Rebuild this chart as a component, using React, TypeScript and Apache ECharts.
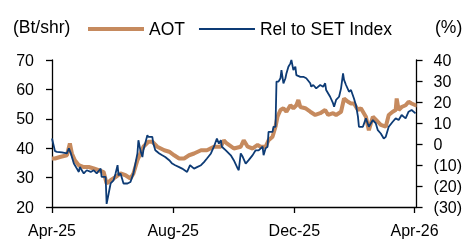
import React, { useEffect, useRef } from "react";
import * as echarts from "echarts";

// x positions are days since 1 Apr 2025
const xTickDays = [0, 122, 244, 365];
const xTickLabels = ["Apr-25", "Aug-25", "Dec-25", "Apr-26"];

const aotDays = [0, 3, 8, 15, 18, 20, 23, 27, 32, 37, 42, 47, 52, 55, 59, 64, 69, 74, 79, 82, 86, 89, 92, 97, 101, 106, 113, 118, 123, 128, 133, 138, 143, 150, 156, 163, 170, 173, 176, 183, 190, 193, 197, 202, 207, 210, 215, 218, 222, 225, 227, 230, 233, 236, 240, 243, 246, 248, 250, 255, 260, 265, 270, 275, 278, 283, 286, 291, 294, 298, 301, 304, 308, 311, 316, 319, 323, 328, 331, 336, 339, 343, 346, 347, 349, 352, 356, 359, 362, 366, 367];
const aotValues = [36.5, 36.5, 37, 37.6, 41.6, 38.2, 35.9, 34.2, 33.6, 33.6, 33.1, 32.5, 31.9, 28, 29.1, 30.2, 31.4, 30.8, 29.7, 31.4, 35.9, 38.2, 40.5, 42.2, 42.2, 40.5, 39.3, 38.8, 37.6, 36.5, 36.5, 37.6, 38.2, 39.3, 39.3, 40.5, 40.5, 42.7, 41.6, 39.9, 40.5, 42.7, 40.5, 39.9, 41.1, 40.5, 40.5, 42.7, 43.9, 47.3, 50.7, 53, 53.6, 52.4, 54.6, 53.6, 54.6, 56.4, 54, 53.6, 52.4, 51.3, 51.9, 53, 51.3, 51.9, 51.3, 52.4, 56.9, 55.8, 55.2, 55.2, 53, 53.6, 50.7, 46.1, 50.7, 49, 47.9, 47.3, 51.3, 52.4, 53, 56.9, 53, 54, 54.6, 55.8, 55.2, 54.6, 54.6];

const relDays = [0, 3, 5, 10, 15, 17, 19, 22, 25, 27, 28, 32, 35, 39, 42, 45, 49, 50, 54, 55, 57, 59, 62, 64, 66, 67, 69, 72, 76, 79, 82, 84, 86, 87, 89, 91, 92, 96, 97, 101, 102, 104, 108, 111, 114, 118, 121, 124, 128, 131, 136, 139, 143, 146, 150, 153, 156, 160, 163, 166, 168, 170, 171, 175, 180, 183, 187, 188, 190, 192, 195, 198, 202, 205, 208, 212, 213, 215, 217, 218, 222, 223, 225, 226, 228, 230, 231, 233, 235, 236, 238, 240, 241, 243, 245, 246, 250, 253, 256, 260, 261, 263, 266, 270, 273, 275, 276, 280, 283, 284, 286, 289, 291, 293, 294, 296, 299, 301, 304, 306, 308, 309, 313, 316, 319, 323, 326, 328, 331, 334, 336, 339, 343, 346, 349, 352, 356, 359, 362, 366];
const relValues = [2.6, -3.4, -3.7, -4, -4.5, -2.1, -4.5, -9.3, -11.7, -13.3, -11, -14, -12.5, -13.3, -12.5, -14, -11.7, -15.7, -15.7, -28.5, -23.7, -18.8, -17.3, -14, -10.1, -14.9, -14, -18.8, -18.8, -18.1, -14, -9.3, -4.5, 1.8, -3, -6.2, -3, 4.2, 3.4, 3.4, 0.2, -3, -4.5, -5.4, -6.2, -7.7, -9.3, -10.1, -11, -11.7, -13.3, -10.1, -11.7, -11, -10.1, -8.6, -6.9, -4.5, -1.3, 2.6, 0.2, 1.8, -1.3, -3, -5.4, -7.7, -11.7, -12.5, -4.5, -6.1, -9.3, -7.7, -5.3, -3, -3, -1.3, -5.3, -2.1, -1.3, 5.8, 5.8, 8.2, 8.2, 29.7, 29.7, 31.3, 35.2, 28.9, 31.3, 33.6, 36.8, 38.4, 40, 35.2, 36.8, 32.8, 32, 32, 31.3, 28.9, 27.3, 28.1, 26.5, 28.1, 27.3, 28.9, 25.7, 22.5, 19.3, 17.7, 21, 22.5, 26.5, 33.6, 30.5, 28.1, 24.9, 25.7, 21.7, 18.5, 13, 8.2, 8.2, 12.2, 8.2, 11.4, 9.8, 6.6, 5, 2.6, 3.4, 8.2, 10.6, 12.2, 11.4, 13.8, 12.2, 15.4, 16.2, 14.6];

const FONT = "'Liberation Sans', Arial, sans-serif";
const BROWN = "#C68A5E";
const NAVY = "#0D3B75";

export default function App() {
  const ref = useRef<HTMLDivElement>(null);
  useEffect(() => {
    if (!ref.current) return;
    const chart = echarts.init(ref.current, undefined, { renderer: "svg" });
    const axisCommon = {
      axisLine: { show: true, onZero: false, lineStyle: { color: "#000", width: 1.3 } },
      axisTick: { show: true, length: 6, lineStyle: { color: "#000", width: 1.3 } },
      splitLine: { show: false },
    };
    chart.setOption({
      animation: false,
      grid: { left: 52, right: 43, top: 60, bottom: 33 },
      legend: {
        left: 83,
        top: 15,
        itemWidth: 56,
        itemHeight: 4,
        itemGap: 14,
        textStyle: { fontFamily: FONT, fontSize: 17.5, color: "#000" },
        data: [
          { name: "AOT", icon: "path://M0 0H56V4H0Z" },
          { name: "Rel to SET Index", icon: "path://M0 1.1H56V2.9H0Z M0 0H0.01V4H0Z" },
        ],
      },
      graphic: [
        { type: "text", left: 13, top: 18, style: { text: "(Bt/shr)", font: `17.5px ${FONT}`, fill: "#000" } },
        { type: "text", left: 435, top: 18, style: { text: "(%)", font: `17.5px ${FONT}`, fill: "#000" } },
      ],
      xAxis: {
        type: "value",
        min: 0,
        max: 367,
        ...axisCommon,
        axisTick: { ...axisCommon.axisTick, customValues: xTickDays },
        axisLabel: {
          customValues: xTickDays,
          formatter: (v: number) => xTickLabels[xTickDays.indexOf(v)] ?? "",
          fontFamily: FONT,
          fontSize: 16,
          color: "#000",
          margin: 15,
        },
      },
      yAxis: [
        {
          type: "value",
          min: 20,
          max: 70,
          interval: 10,
          position: "left",
          ...axisCommon,
          axisLabel: { fontFamily: FONT, fontSize: 16, color: "#000", margin: 18 },
        },
        {
          type: "value",
          min: -30,
          max: 40,
          interval: 10,
          position: "right",
          ...axisCommon,
          axisLabel: {
            fontFamily: FONT,
            fontSize: 16,
            color: "#000",
            margin: 17,
            formatter: (v: number) => (v < 0 ? `(${-v})` : `${v}`),
          },
        },
      ],
      series: [
        {
          name: "AOT",
          type: "line",
          yAxisIndex: 0,
          symbol: "none",
          data: aotDays.map((d, i) => [d, aotValues[i]]),
          lineStyle: { color: BROWN, width: 4 },
          itemStyle: { color: BROWN },
        },
        {
          name: "Rel to SET Index",
          type: "line",
          yAxisIndex: 1,
          symbol: "none",
          data: relDays.map((d, i) => [d, relValues[i]]),
          lineStyle: { color: NAVY, width: 1.8 },
          itemStyle: { color: NAVY },
        },
      ],
    });
    return () => chart.dispose();
  }, []);
  return <div ref={ref} style={{ position: "fixed", left: 0, top: 0, width: 465, height: 240 }} />;
}
